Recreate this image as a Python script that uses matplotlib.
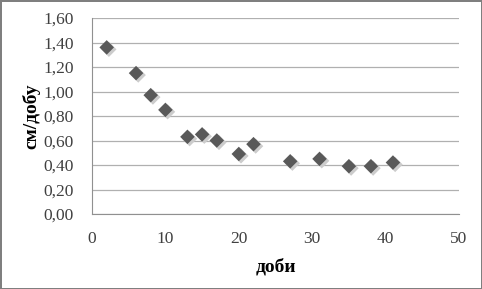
import matplotlib
matplotlib.use('Agg')
import matplotlib.pyplot as plt
from matplotlib.ticker import FuncFormatter
import numpy as np

days = [2, 6, 8, 10, 13, 15, 17, 20, 22, 27, 31, 35, 38, 41]
speed = [1.36, 1.15, 0.97, 0.85, 0.63, 0.65, 0.60, 0.49, 0.57, 0.43, 0.45, 0.39, 0.39, 0.42]

plt.rcParams['font.family'] = ['Liberation Serif', 'DejaVu Serif']

fig = plt.figure(figsize=(4.82, 2.89), dpi=100)
fig.patch.set_edgecolor('#7f7f7f')
fig.patch.set_linewidth(2)
ax = fig.add_axes([0.1909, 0.2595, 0.7614, 0.6782])

# shadow then marker
ax.scatter(np.array(days) + 0.3, np.array(speed) - 0.016, marker='D', s=60,
           color='#cccccc', edgecolors='none', zorder=2)
ax.scatter(days, speed, marker='D', s=55, color='#595959', edgecolors='none', zorder=3)

ax.set_xlim(0, 50)
ax.set_ylim(0, 1.6)
ax.set_xticks(np.arange(0, 51, 10))
ax.set_yticks(np.arange(0, 1.61, 0.2))
ax.yaxis.set_major_formatter(FuncFormatter(lambda v, p: ('%.2f' % v).replace('.', ',')))
ax.grid(axis='y', color='#b0b0b0', linewidth=0.9)
ax.set_axisbelow(True)
for s in ['top', 'right']:
    ax.spines[s].set_visible(False)
for s in ['left', 'bottom']:
    ax.spines[s].set_color('#909090')
ax.tick_params(length=0, labelsize=12.5, colors='#404040')
ax.tick_params(axis='x', pad=12)
ax.tick_params(axis='y', pad=13)

ax.set_xlabel('доби', fontsize=14, fontweight='bold', labelpad=8)
ax.set_ylabel('см/добу', fontsize=14, fontweight='bold', labelpad=2)

plt.savefig('out.png', dpi=100)
